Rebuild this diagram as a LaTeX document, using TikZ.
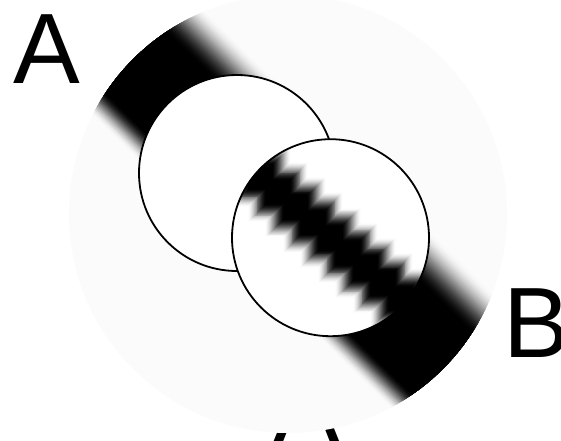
\documentclass[tikz,border=0pt]{standalone}
\usepackage{fontspec}
\usetikzlibrary{calc}
\newfontfamily\labelfont{Liberation Sans}
\tikzset{
  letter/.style={font=\labelfont\fontsize{100}{100}\selectfont, inner sep=0pt, anchor=base west},
  obstacle/.style={fill=white, draw=black, line width=1.8pt},
}
\begin{document}
\begin{tikzpicture}[x=1pt,y=-1pt]
\useasboundingbox (0,0) rectangle (561,440);
\fill[white] (0,0) rectangle (561,440);
\coordinate (disc) at (288,214);
\coordinate (holeA) at (237,173);
\coordinate (holeB) at (330.5,237.7);
% label half hidden under the disc
\node[letter] (labC) at (273,442) {A};
\fill[black!1.5] (disc) circle (219);
% wide blurred band, clipped to the disc
\begin{scope}
\clip (disc) circle (219);
\begin{scope}[shift={(disc)},rotate=-44.5]
\foreach \k in {0,...,30}{
  \pgfmathsetmacro\t{\k/30}
  \pgfmathsetmacro\tone{1.5+98.5*(3*\t*\t-2*\t*\t*\t)}
  \pgfmathsetmacro\bup{44+44*(1-\t)}
  \pgfmathsetmacro\bdn{41+26*(1-\t)}
  \fill[black!\tone] (-300,-\bup) rectangle (300,\bdn);
}
\end{scope}
\end{scope}
\filldraw[obstacle] (holeA) circle (98);
% second hole with the narrow stepped band
\fill[white] (holeB) circle (98.5);
\begin{scope}
\clip (holeB) circle (98.5);
\foreach \k in {0,...,20}{
  \pgfmathsetmacro\t{\k/20}
  \pgfmathsetmacro\tone{100*(3*\t*\t-2*\t*\t*\t)}
  \pgfmathsetmacro\half{12+19*(1-\t)}
  \foreach \j in {-7,...,7}{
    \fill[black!\tone] ($(holeB)+(17.5*\j,15.2*\j)$) +(-\half,-\half) rectangle +(\half,\half);
  }
}
\end{scope}
\draw[line width=1.8pt] (holeB) circle (98.5);
\node[letter] (labA) at (13,83) {A};
\node[letter] (labB) at (503,357) {B};
\end{tikzpicture}
\end{document}
